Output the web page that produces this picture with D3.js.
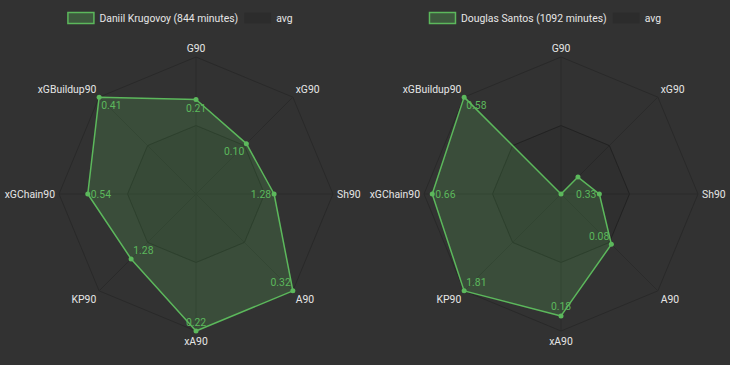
<!DOCTYPE html>
<html><head><meta charset="utf-8">
<script src="https://cdn.jsdelivr.net/npm/d3@7"></script>
<style>
html,body{margin:0;padding:0;background:#323232;}
svg{display:block;}
</style></head>
<body>
<svg id="chart" width="730" height="365"></svg>
<script>
const axes = ["G90","xG90","Sh90","A90","xA90","KP90","xGChain90","xGBuildup90"];
// normalised radial position (avg = 0.5)
const krugovoyValues = [0.69, 0.52, 0.57, 1.0, 1.0, 0.67, 0.79, 1.0];
const krugovoyLabels = ["0.21","0.10","1.28","0.32","0.22","1.28","0.54","0.41"];
const santosValues = [0.0, 0.175, 0.28, 0.52, 0.89, 1.0, 0.94, 1.0];
const santosLabels = ["","","0.33","0.08","0.18","1.81","0.66","0.58"];
const avgValues = [0.5, 0.5, 0.5, 0.5, 0.5, 0.5, 0.5, 0.5];
const gridLevels = [0.5, 1.0];
const players = [
  {name:"Daniil Krugovoy (844 minutes)", values:krugovoyValues, labels:krugovoyLabels},
  {name:"Douglas Santos (1092 minutes)", values:santosValues, labels:santosLabels}
];

const svg = d3.select("#chart");
const W = 730, H = 365, halfW = 365;
const R = 137;
const green = "#5cb85c";
const font = "Roboto, 'DejaVu Sans', sans-serif";
const fs = 10.4;

const angle = d3.scalePoint().domain(axes).range([0, 2*Math.PI*(axes.length-1)/axes.length]);
const rScale = d3.scaleLinear().domain([0,1]).range([0,R]);

function pt(axis, v){
  const a = angle(axis);
  return [Math.sin(a)*rScale(v), -Math.cos(a)*rScale(v)];
}

players.forEach((p, i) => {
  const g = svg.append("g").attr("transform", `translate(${i*halfW},0)`);
  // legend
  const leg = g.append("g").attr("font-family", font).attr("font-size", fs);
  const t1 = leg.append("text").text(p.name).attr("fill", "#e6e6e6").attr("dominant-baseline","central");
  const t2 = leg.append("text").text("avg").attr("fill", "#e6e6e6").attr("dominant-baseline","central");
  const w1 = t1.node().getComputedTextLength(), w2 = t2.node().getComputedTextLength();
  const sw = 27, gap = 5, itemGap = 6;
  const total = sw + gap + w1 + itemGap + sw + gap + w2;
  let x0 = 180 - total/2;
  const ly = 18;
  leg.append("rect").attr("x", x0+0.5).attr("y", ly-5.5).attr("width", sw-1).attr("height", 11)
     .attr("fill", "rgba(92,184,92,0.3)").attr("stroke", green).attr("stroke-width", 1.5);
  t1.attr("x", x0+sw+gap).attr("y", ly);
  const x1 = x0+sw+gap+w1+itemGap;
  leg.append("rect").attr("x", x1).attr("y", ly-5.5).attr("width", sw).attr("height", 11)
     .attr("fill", "rgba(0,0,0,0.1)");
  t2.attr("x", x1+sw+gap).attr("y", ly);

  const c = g.append("g").attr("transform", `translate(196,194)`);
  // grid
  gridLevels.forEach(l => {
    c.append("path").attr("d", d3.line()(axes.map(a => pt(a, l))) + "Z")
      .attr("fill","none").attr("stroke","#292929").attr("stroke-width",1);
  });
  axes.forEach(a => {
    const [x,y] = pt(a,1);
    c.append("line").attr("x1",0).attr("y1",0).attr("x2",x).attr("y2",y)
      .attr("stroke","#2b2b2b").attr("stroke-width",1);
  });
  // avg polygon
  c.append("path").attr("d", d3.line()(axes.map((a,k) => pt(a, avgValues[k]))) + "Z")
    .attr("fill","rgba(0,0,0,0.06)").attr("stroke","rgba(0,0,0,0.12)").attr("stroke-width",1);
  // player polygon
  c.append("path").attr("d", d3.line()(axes.map((a,k) => pt(a, p.values[k]))) + "Z")
    .attr("fill","rgba(92,184,92,0.2)").attr("stroke", green).attr("stroke-width",1.5).attr("stroke-linejoin","round");
  axes.forEach((a,k) => {
    const [x,y] = pt(a, p.values[k]);
    c.append("circle").attr("cx",x).attr("cy",y).attr("r",2.5).attr("fill",green);
  });
  // value labels (placed toward centre)
  axes.forEach((a,k) => {
    if (!p.labels[k]) return;
    const [x,y] = pt(a, p.values[k]);
    const ang = angle(a);
    const ux = -Math.sin(ang), uy = Math.cos(ang);
    const t = c.append("text").text(p.labels[k]).attr("font-family", font).attr("font-size", fs)
      .attr("fill", green).attr("dominant-baseline","central").attr("text-anchor","middle");
    const w = t.node().getComputedTextLength(), h = 12, off = 3;
    const sx = Math.abs(ux) < 0.01 ? 0 : Math.sign(ux);
    const sy = Math.abs(uy) < 0.01 ? 0 : Math.sign(uy);
    t.attr("x", x + sx*w/2 + ux*off).attr("y", y + sy*h/2 + uy*off);
  });
  // axis labels
  axes.forEach(a => {
    const ang = angle(a);
    const ux = Math.sin(ang), uy = -Math.cos(ang);
    const [x,y] = [ux*(R+4), uy*(R+4)];
    const anchor = Math.abs(ux) < 0.01 ? "middle" : (ux > 0 ? "start" : "end");
    let dy;
    if (Math.abs(uy) < 0.01) dy = 0; else if (uy < 0) dy = -5; else dy = 6;
    c.append("text").text(a).attr("x", x).attr("y", y + dy)
      .attr("font-family", font).attr("font-size", fs).attr("fill","#e6e6e6")
      .attr("text-anchor", anchor).attr("dominant-baseline","central");
  });
});
</script>
</body></html>
